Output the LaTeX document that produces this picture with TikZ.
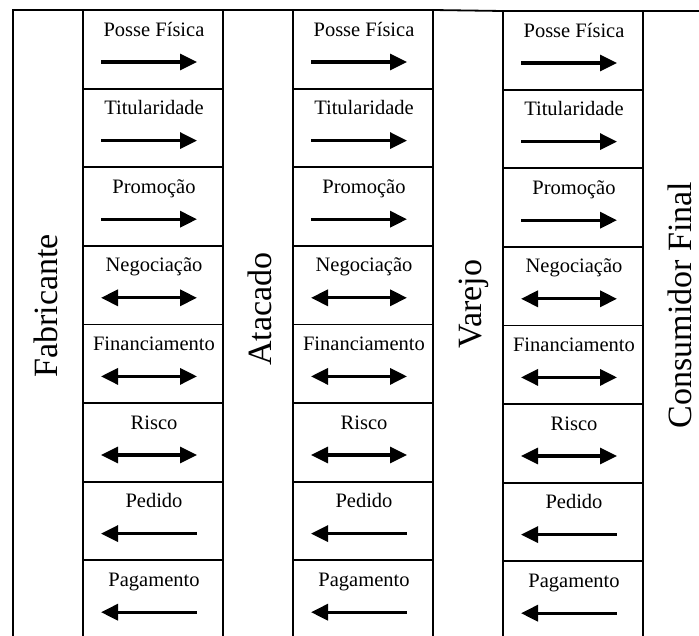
\documentclass[tikz,border=0pt]{standalone}
\usepackage{fontspec}
\setmainfont{Liberation Serif}
\usetikzlibrary{arrows.meta}
\begin{document}
\begin{tikzpicture}[x=1pt,y=-1pt,
  frame/.style={line width=1.8pt,black},
  cell/.style={draw,line width=1.8pt,minimum width=140pt,minimum height=78.6pt,inner sep=0pt,outer sep=0pt},
  flowlabel/.style={font=\fontsize{20.5}{24}\selectfont,anchor=base,inner sep=0pt},
  party/.style={font=\fontsize{34}{40}\selectfont,rotate=90,anchor=base,inner sep=0pt},
  flowr/.style={line width=3.3pt,-{Triangle[length=17pt,width=16pt]}},
  flowb/.style={line width=3.3pt,{Triangle[length=17pt,width=16pt]}-{Triangle[length=17pt,width=16pt]}},
  flowl/.style={line width=3.3pt,{Triangle[length=17pt,width=16pt]}-},
]
\clip (0,0) rectangle (699,635);
\fill[white] (0,0) rectangle (699,635);
\foreach \c/\l/\t in {1/83/10, 2/293/10, 3/503/11} {
  \foreach \r/\lab/\kind in {1/Posse Física/r, 2/Titularidade/r, 3/Promoção/r, 4/Negociação/b, 5/Financiamento/b, 6/Risco/b, 7/Pedido/l, 8/Pagamento/l} {
    \pgfmathsetmacro{\cx}{\l+70}
    \pgfmathsetmacro{\cy}{\t+(\r-0.5)*78.6}
    \pgfmathsetmacro{\rt}{\t+(\r-1)*78.6}
    \node[cell] (c\c r\r) at (\cx,\cy) {};
    \node[flowlabel] (t\c r\r) at (\l+71,\rt+26) {\lab};
    \coordinate (a\c r\r) at (\l+18,\rt+52);
    \coordinate (b\c r\r) at (\l+114,\rt+52);
    \draw[flow\kind] (a\c r\r) -- (b\c r\r);
  }
}
\coordinate (tl) at (13,10);
\coordinate (bl) at (13,640);
\coordinate (tr) at (700,11);
\draw[frame] (bl) -- (tl) -- (c1r1.north west);
\draw[frame] (c1r1.north east) -- (c2r1.north west);
\draw[frame] (c2r1.north east) -- (c3r1.north west);
\draw[frame] (c3r1.north east) -- (tr);
\node[party] (fab) at (57,306) {Fabricante};
\node[party] (ata) at (271,309) {Atacado};
\node[party] (var) at (481,304) {Varejo};
\node[party] (con) at (691,305) {Consumidor Final};
\end{tikzpicture}
\end{document}
